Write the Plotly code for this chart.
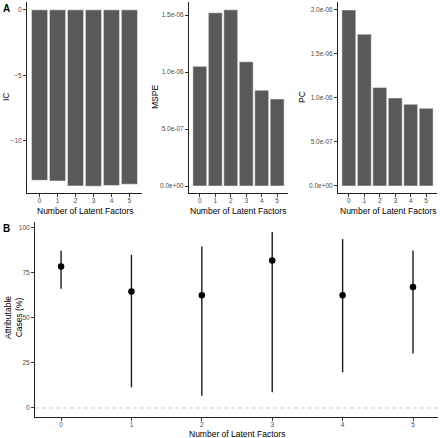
import plotly.graph_objects as go

# ---- data ----
factors = ["0", "1", "2", "3", "4", "5"]
ic_values = [-13.0, -13.05, -13.43, -13.45, -13.4, -13.3]
mspe_values = [1.05e-6, 1.52e-6, 1.545e-6, 1.09e-6, 0.84e-6, 0.763e-6]
pc_values = [2.0e-6, 1.724e-6, 1.12e-6, 1.0e-6, 0.928e-6, 0.883e-6]
attr_est = [78.5, 64.6, 62.6, 81.8, 62.6, 67.2]
attr_low = [66.1, 11.5, 6.8, 8.7, 19.8, 30.2]
attr_high = [87.2, 85.0, 89.6, 97.6, 93.7, 87.4]

ic_ticks = [-10, -5, 0]
sci_ticks = [0, 5e-7, 1e-6, 1.5e-6, 2e-6]
sci_labels = ["0.0e+00", "5.0e-07", "1.0e-06", "1.5e-06", "2.0e-06"]
attr_ticks = [0, 25, 50, 75, 100]

W, H = 440, 438
FONT = "Liberation Sans, Arial, sans-serif"
BAR = "#595959"
TICKC = "#4D4D4D"


def dx(a, b):
    return [a / W, b / W]


def dy(top, bottom):
    return [1 - bottom / H, 1 - top / H]


fig = go.Figure()

bar_kw = dict(marker=dict(color=BAR, line=dict(color="white", width=0.5)), showlegend=False, hoverinfo="x+y")
fig.add_trace(go.Bar(x=factors, y=ic_values, xaxis="x", yaxis="y", **bar_kw))
fig.add_trace(go.Bar(x=factors, y=mspe_values, xaxis="x2", yaxis="y2", **bar_kw))
fig.add_trace(go.Bar(x=factors, y=pc_values, xaxis="x3", yaxis="y3", **bar_kw))

err_plus = [h - e for h, e in zip(attr_high, attr_est)]
err_minus = [e - l for e, l in zip(attr_est, attr_low)]
fig.add_trace(go.Scatter(
    x=[int(f) for f in factors], y=attr_est, mode="markers", xaxis="x4", yaxis="y4",
    marker=dict(color="black", size=6.5),
    error_y=dict(type="data", symmetric=False, array=err_plus, arrayminus=err_minus,
                 color="#1a1a1a", thickness=1.4, width=0),
    showlegend=False,
))

axis_common = dict(
    showline=True, linecolor="#222222", linewidth=1, ticks="outside", ticklen=3,
    tickcolor="#333333", tickwidth=1, showgrid=False, zeroline=False,
    tickfont=dict(family=FONT, size=6.5, color=TICKC),
)
xaxis_extra = dict(ticklabelstandoff=-2)

ytop, ybot = 2, 193
layout = dict(
    width=W, height=H, margin=dict(l=0, r=0, t=0, b=0),
    plot_bgcolor="white", paper_bgcolor="white", bargap=0.1,
    font=dict(family=FONT, color="black"),
    xaxis=dict(domain=dx(27, 142), anchor="y", type="category", range=[-0.7, 5.7], **axis_common, **xaxis_extra),
    yaxis=dict(domain=dy(ytop, ybot), anchor="x", range=[-13.97, 0.6], tickvals=ic_ticks,
               ticktext=[str(t).replace("-", "\u2212") for t in ic_ticks], **axis_common),
    xaxis2=dict(domain=dx(189, 288), anchor="y2", type="category", range=[-0.7, 5.7], **axis_common, **xaxis_extra),
    yaxis2=dict(domain=dy(ytop, ybot), anchor="x2", range=[-0.061e-6, 1.614e-6],
                tickvals=sci_ticks[:4], ticktext=sci_labels[:4], **axis_common),
    xaxis3=dict(domain=dx(338, 437), anchor="y3", type="category", range=[-0.7, 5.7], **axis_common, **xaxis_extra),
    yaxis3=dict(domain=dy(ytop, ybot), anchor="x3", range=[-0.08e-6, 2.09e-6],
                tickvals=sci_ticks, ticktext=sci_labels, **axis_common),
    xaxis4=dict(domain=dx(35, 438), anchor="y4", range=[-0.37, 5.355], tickvals=[int(f) for f in factors],
                ticktext=factors, **axis_common, **xaxis_extra),
    yaxis4=dict(domain=dy(222, 417), anchor="x4", range=[-5.0, 103.2], tickvals=attr_ticks, **axis_common),
)
fig.update_layout(**layout)

fig.add_hline(y=0, line=dict(color="#c8c8c8", width=1, dash="4px,3px"), xref="x4", yref="y4")


def ann(text, x, y, size=8.5, angle=0, bold=False, xanchor="center", yanchor="middle"):
    fig.add_annotation(text=("<b>%s</b>" % text) if bold else text, x=x / W, y=1 - y / H,
                       xref="paper", yref="paper", showarrow=False, textangle=angle,
                       xanchor=xanchor, yanchor=yanchor,
                       font=dict(family=FONT, size=size, color="black"))


ann("A", 1, 9, size=10, bold=True, xanchor="left")
ann("B", 1, 228, size=10, bold=True, xanchor="left")
ann("IC", 6, 97, angle=-90)
ann("MSPE", 155, 97, angle=-90)
ann("PC", 302, 97, angle=-90)
for cx in [(27 + 142) / 2, (189 + 288) / 2, (338 + 437) / 2]:
    ann("Number of Latent Factors", cx, 211)
ann("Number of Latent Factors", (35 + 438) / 2, 433.5)
ann("Attributable<br>Cases (%)", 13, 318, angle=-90)

fig.write_html("out.html", config={"displayModeBar": False},
               post_script="document.body.style.margin='0';document.body.style.overflow='hidden';")
